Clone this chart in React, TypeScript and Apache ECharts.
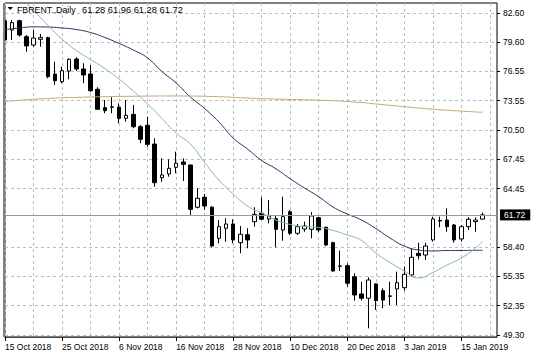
import React, { useEffect, useRef } from "react";
import * as echarts from "echarts";

// Trading days (one category per daily bar)
const dates = [
  "15 Oct 2018", "16 Oct 2018", "17 Oct 2018", "18 Oct 2018", "19 Oct 2018",
  "22 Oct 2018", "23 Oct 2018", "24 Oct 2018", "25 Oct 2018", "26 Oct 2018",
  "29 Oct 2018", "30 Oct 2018", "31 Oct 2018", "1 Nov 2018", "2 Nov 2018",
  "5 Nov 2018", "6 Nov 2018", "7 Nov 2018", "8 Nov 2018", "9 Nov 2018",
  "12 Nov 2018", "13 Nov 2018", "14 Nov 2018", "15 Nov 2018", "16 Nov 2018",
  "19 Nov 2018", "20 Nov 2018", "21 Nov 2018", "22 Nov 2018", "23 Nov 2018",
  "26 Nov 2018", "27 Nov 2018", "28 Nov 2018", "29 Nov 2018", "30 Nov 2018",
  "3 Dec 2018", "4 Dec 2018", "5 Dec 2018", "6 Dec 2018", "7 Dec 2018",
  "10 Dec 2018", "11 Dec 2018", "12 Dec 2018", "13 Dec 2018", "14 Dec 2018",
  "17 Dec 2018", "18 Dec 2018", "19 Dec 2018", "20 Dec 2018", "21 Dec 2018",
  "24 Dec 2018", "26 Dec 2018", "27 Dec 2018", "28 Dec 2018", "31 Dec 2018",
  "2 Jan 2019", "3 Jan 2019", "4 Jan 2019", "7 Jan 2019", "8 Jan 2019",
  "9 Jan 2019", "10 Jan 2019", "11 Jan 2019", "14 Jan 2019", "15 Jan 2019",
  "16 Jan 2019", "17 Jan 2019", "18 Jan 2019",
];
// empty slots to the right (chart shift)
const shiftSlots = ["", ""];

const open = [
  81.80, 80.84, 81.80, 80.15, 79.29, 79.88, 80.05, 76.29, 75.50, 76.60,
  77.84, 76.81, 76.29, 74.71, 72.81, 72.85, 72.85, 71.71, 72.12, 70.84,
  70.99, 69.05, 65.57, 65.95, 66.64, 67.19, 66.88, 62.51, 63.54, 62.51,
  59.30, 60.34, 60.78, 58.85, 59.67, 61.02, 61.89, 61.30, 61.33, 60.16,
  62.05, 59.82, 60.26, 60.23, 61.43, 60.44, 58.85, 56.40, 56.47, 55.33,
  53.54, 53.10, 54.58, 53.88, 53.30, 54.06, 54.19, 55.51, 57.75, 57.57,
  59.13, 61.15, 61.19, 60.68, 59.23, 60.50, 61.02, 61.28,
];
const high = [
  81.95, 81.88, 81.90, 80.32, 80.84, 80.43, 80.15, 77.56, 77.05, 77.92,
  78.02, 77.40, 77.22, 74.92, 73.60, 73.88, 73.26, 73.60, 73.09, 71.02,
  71.88, 69.64, 67.57, 67.47, 68.26, 67.57, 66.92, 64.47, 63.88, 62.64,
  61.19, 61.37, 61.27, 60.57, 60.34, 62.51, 63.54, 63.26, 61.71, 63.60,
  62.23, 60.78, 61.02, 62.02, 61.54, 60.50, 58.95, 58.04, 56.72, 55.68,
  54.81, 55.27, 54.65, 54.13, 54.81, 55.85, 56.36, 58.27, 58.85, 58.85,
  61.54, 61.54, 62.40, 60.78, 60.68, 61.47, 61.47, 61.96,
];
const low = [
  79.70, 79.81, 80.15, 78.60, 79.11, 79.11, 75.85, 75.15, 75.33, 75.74,
  76.60, 75.33, 74.46, 72.57, 72.23, 72.23, 71.19, 71.36, 70.68, 69.13,
  68.77, 64.64, 65.15, 65.67, 66.02, 65.23, 61.71, 62.40, 62.23, 58.37,
  58.78, 58.95, 58.78, 57.75, 58.27, 60.50, 61.19, 60.85, 58.37, 59.05,
  59.64, 59.64, 59.98, 59.30, 59.95, 58.50, 55.85, 55.92, 54.30, 52.85,
  52.85, 49.99, 51.89, 52.06, 52.40, 52.40, 53.88, 55.33, 57.13, 57.06,
  58.95, 60.44, 59.98, 58.85, 58.95, 60.16, 59.98, 61.28,
];
const close = [
  79.81, 81.60, 80.32, 79.19, 80.01, 80.05, 76.01, 75.60, 76.63, 77.81,
  76.81, 76.19, 74.56, 72.64, 72.50, 72.90, 71.71, 72.02, 70.84, 69.54,
  69.02, 65.05, 65.85, 66.54, 67.06, 66.95, 62.30, 63.44, 62.64, 58.50,
  60.50, 60.78, 59.13, 59.72, 59.13, 61.78, 61.27, 61.61, 60.23, 61.54,
  59.82, 60.50, 60.57, 61.61, 60.16, 58.61, 55.92, 56.45, 54.65, 53.44,
  53.10, 54.99, 52.85, 52.92, 53.35, 54.71, 55.58, 57.34, 57.50, 58.50,
  61.30, 61.10, 60.50, 59.13, 60.50, 61.27, 61.19, 61.72,
];

// Moving averages at these bar indices
const maIdx = [
  0, 2, 4, 6, 8, 10, 12, 14, 16, 18, 20, 22, 24, 26, 28, 30, 32, 34,
  36, 38, 40, 42, 44, 46, 48, 50, 52, 54, 56, 58, 60, 62, 64, 66, 67,
];
const maSlow = [
  80.89, 81.05, 81.17, 81.15, 81.05, 80.89, 80.58, 80.07, 79.45, 78.77,
  77.95, 76.55, 75.36, 73.91, 72.72, 71.33, 69.67, 68.54, 67.35, 66.49,
  65.46, 64.50, 63.60, 62.54, 61.81, 61.19, 60.31, 59.33, 58.50, 58.09,
  57.99, 58.04, 58.04, 58.06, 58.06,
];
const maFast = [
  85.81, 84.36, 82.89, 81.34, 79.89, 78.72, 77.80, 76.85, 75.77, 74.53,
  73.19, 71.70, 70.17, 69.05, 67.14, 65.33, 63.88, 62.64, 61.92, 61.19,
  60.73, 60.52, 60.42, 60.11, 59.64, 59.07, 57.78, 56.80, 55.92, 55.20,
  55.76, 56.54, 57.26, 58.30, 59.02,
];
const maLongIdx = [0, 6, 12, 18, 24, 30, 36, 42, 48, 54, 60, 67];
const maLong = [
  73.45, 73.76, 73.91, 73.99, 74.02, 73.94, 73.74, 73.62, 73.45, 73.05,
  72.65, 72.33,
];

// Price scale labels
const yTicks = [82.6, 79.6, 76.55, 73.55, 70.5, 67.45, 64.45, 58.4, 55.35, 52.35, 49.3];
const yMin = 49.093;
const yMax = 83.634;

const symbolName = "FBRENT..Daily";

const FONT = "'Liberation Sans', Arial, sans-serif";

export default function App() {
  const ref = useRef<HTMLDivElement>(null);

  useEffect(() => {
    if (!ref.current) return;
    const chart = echarts.init(ref.current, null, { renderer: "svg" });
    const cats = dates.concat(shiftSlots);
    const candles = open.map((o, i) => [o, close[i], low[i], high[i]]);
    const last = open.length - 1;
    const quote = [open[last], high[last], low[last], close[last]]
      .map((v) => v.toFixed(2))
      .join(" ");
    const grid = {
      color: "#bdbdbd",
      type: [3, 3] as number[],
      width: 1,
    };
    const every8 = (i: number) => i % 8 === 0 && i < dates.length;

    chart.setOption({
      animation: false,
      backgroundColor: "#ffffff",
      grid: {
        left: 5,
        right: 39,
        top: 3,
        bottom: 21,
        show: true,
        borderColor: "#000",
        borderWidth: 1,
        backgroundColor: "transparent",
      },
      xAxis: {
        type: "category",
        data: cats,
        boundaryGap: false,
        axisLine: { show: true, lineStyle: { color: "#444", width: 1 } },
        axisTick: { show: true, interval: every8, length: 4, lineStyle: { color: "#000" } },
        axisLabel: {
          interval: every8,
          align: "left",
          margin: 5,
          fontSize: 8.5,
          color: "#000",
          fontFamily: FONT,
          hideOverlap: false,
        },
        splitLine: { show: true, interval: 3, lineStyle: grid },
      },
      yAxis: {
        type: "value",
        position: "right",
        min: yMin,
        max: yMax,
        axisLine: { show: false },
        axisTick: {
          show: true,
          customValues: yTicks,
          length: 3,
          lineStyle: { color: "#000" },
        },
        axisLabel: {
          customValues: yTicks,
          formatter: (v: number) => v.toFixed(2),
          margin: 6,
          fontSize: 8.5,
          color: "#000",
          fontFamily: FONT,
        },
        splitLine: { show: true, lineStyle: grid },
      },
      graphic: [
        {
          type: "line",
          shape: { x1: 4, y1: 3, x2: 4, y2: 337 },
          style: { stroke: "#808080", lineWidth: 2 },
          z: 100,
        },
        {
          type: "polygon",
          shape: { points: [[7.5, 7], [13, 7], [10.25, 10]] },
          style: { fill: "#000" },
          z: 100,
        },
        {
          type: "text",
          x: 17,
          y: 10,
          style: {
            text: symbolName,
            fill: "#000",
            font: `8.8px ${FONT}`,
            textVerticalAlign: "middle",
          },
          z: 100,
        },
        {
          type: "text",
          x: 82,
          y: 10,
          style: {
            text: quote,
            fill: "#000",
            font: `9.3px ${FONT}`,
            textVerticalAlign: "middle",
          },
          z: 100,
        },
      ],
      series: [
        {
          type: "candlestick",
          data: candles,
          barWidth: 4,
          itemStyle: {
            color: "#ffffff",
            color0: "#000000",
            borderColor: "#000000",
            borderColor0: "#000000",
            borderWidth: 1,
          },
          markLine: {
            silent: true,
            symbol: "none",
            data: [{ yAxis: close[last] }],
            lineStyle: { color: "#9a9a9a", type: "solid", width: 1 },
            label: {
              show: true,
              position: "end",
              distance: 3,
              formatter: close[last].toFixed(2),
              color: "#fff",
              backgroundColor: "#000",
              padding: [1, 5, 1, 4],
              fontSize: 8.5,
              fontFamily: FONT,
            },
          },
        },
        {
          type: "line",
          data: maIdx.map((x, i) => [x, maSlow[i]]),
          smooth: true,
          symbol: "none",
          lineStyle: { color: "#2a2c5c", width: 1 },
        },
        {
          type: "line",
          data: maIdx.map((x, i) => [x, maFast[i]]),
          smooth: true,
          symbol: "none",
          lineStyle: { color: "#84b6a8", width: 1 },
        },
        {
          type: "line",
          data: maLongIdx.map((x, i) => [x, maLong[i]]),
          smooth: true,
          symbol: "none",
          lineStyle: { color: "#c6a67e", width: 1 },
        },
      ],
    });
    return () => chart.dispose();
  }, []);

  return (
    <div
      ref={ref}
      style={{ position: "fixed", left: 0, top: 0, width: 536, height: 358 }}
    />
  );
}
